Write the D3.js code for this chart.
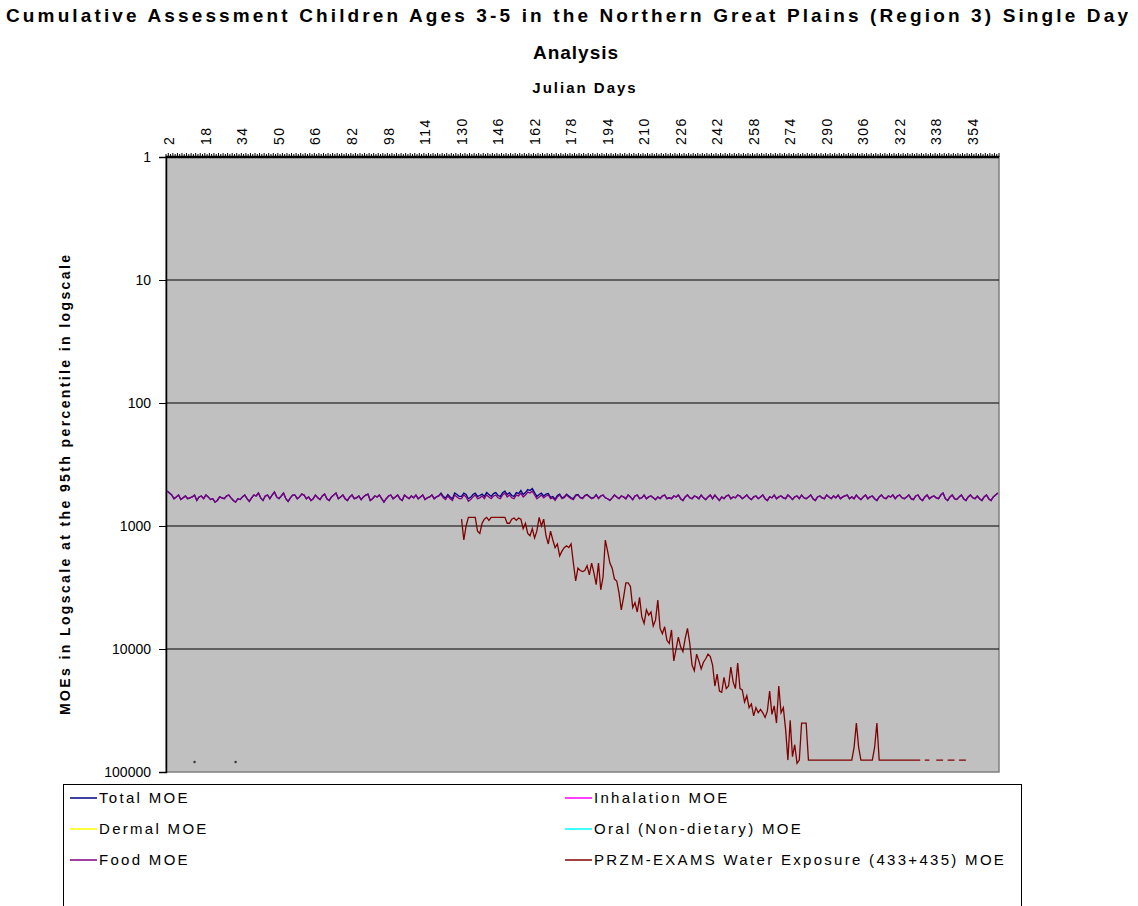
<!DOCTYPE html>
<html lang="en">
<head>
<meta charset="utf-8">
<title>Cumulative Assessment Children Ages 3-5</title>
<script src="https://d3js.org/d3.v7.min.js"></script>
<style>
  body { margin: 0; background: #fff; }
  text { font-family: "Liberation Sans", Arial, sans-serif; fill: #000; }
  .title { font-weight: bold; font-size: 19px; }
  .axis-title { font-weight: bold; font-size: 14px; }
  .tick-label { font-size: 14px; }
  .legend text { font-size: 15px; letter-spacing: 2.3px; }
</style>
</head>
<body>
<svg id="chart" width="1138" height="906"></svg>
<script>

// ---- data ----
var yTicks = [1, 10, 100, 1000, 10000, 100000];
var gridValues = [10, 100, 1000, 10000];

// julian day labels shown on top axis (every 16th day)
var dayLabels = [2, 18, 34, 50, 66, 82, 98, 114, 130, 146, 162, 178, 194, 210,
  226, 242, 258, 274, 290, 306, 322, 338, 354];

// Food MOE, day 1..365
var foodMOE = [
  520,540,560,600,580,560,610,590,570,600,590,580,560,620,580,570,600,560,580,610,
  600,640,620,580,590,600,570,560,590,620,640,600,610,580,560,600,630,590,560,570,
  540,590,620,570,560,600,560,530,580,600,570,540,600,630,590,560,560,600,580,550,
  560,600,580,620,600,560,590,610,570,550,600,620,580,560,540,600,580,560,600,620,
  580,560,600,590,570,610,580,560,550,620,600,570,580,560,600,640,600,570,560,600,
  580,560,600,620,560,580,600,570,590,560,600,580,560,610,590,580,560,600,580,570,
  550,590,610,570,600,620,560,580,600,600,560,580,630,610,580,560,600,590,570,600,
  560,580,600,570,560,590,600,560,540,580,560,590,600,560,570,540,580,560,530,540,
  520,560,600,580,560,590,570,560,600,590,620,580,560,600,590,560,580,600,610,570,
  560,590,600,570,560,580,600,590,560,600,570,560,590,600,620,590,560,580,600,570,
  580,600,560,580,610,570,560,600,590,560,600,580,570,590,610,580,600,570,560,600,
  590,600,570,580,560,600,620,580,560,590,600,570,580,600,560,590,610,580,560,600,
  560,590,620,580,600,570,560,600,580,590,560,570,600,580,560,590,610,580,570,600,
  580,560,600,620,580,590,560,600,580,570,590,600,560,580,610,580,570,600,560,590,
  600,580,560,600,620,580,570,590,600,560,580,600,570,590,560,600,580,570,560,600,
  580,600,560,590,610,580,560,600,580,570,600,620,580,560,590,600,570,580,560,600,
  570,560,590,600,580,560,600,610,570,560,600,620,580,560,600,580,570,590,600,560,
  540,600,620,580,560,600,610,580,560,600,620,580,560,590,600,570,600,620,580,560,
  600,620,580,560,540
];

// Total MOE, day 1..365
var totalMOE = [
  520,540,560,600,580,560,610,590,570,600,590,580,560,620,580,570,600,560,580,610,
  600,640,620,580,590,600,570,560,590,620,640,600,610,580,560,600,630,590,560,570,
  540,590,620,570,560,600,560,530,580,600,570,540,600,630,590,560,560,600,580,550,
  560,600,580,620,600,560,590,610,570,550,600,620,580,560,540,600,580,560,600,620,
  580,560,600,590,570,610,580,560,550,620,600,570,580,560,600,640,600,570,560,600,
  580,560,600,620,560,580,600,570,590,560,600,580,560,610,590,580,560,600,580,570,
  540,575,590,555,580,600,540,555,575,575,540,555,600,585,555,540,575,565,550,575,
  535,555,575,545,535,565,575,535,520,555,535,565,575,535,545,515,555,535,505,515,
  495,535,575,555,540,570,550,545,585,575,605,565,550,590,580,550,570,590,600,560,
  555,585,595,565,555,575,595,585,555,595,570,560,590,600,620,590,560,580,600,570,
  580,600,560,580,610,570,560,600,590,560,600,580,570,590,610,580,600,570,560,600,
  590,600,570,580,560,600,620,580,560,590,600,570,580,600,560,590,610,580,560,600,
  560,590,620,580,600,570,560,600,580,590,560,570,600,580,560,590,610,580,570,600,
  580,560,600,620,580,590,560,600,580,570,590,600,560,580,610,580,570,600,560,590,
  600,580,560,600,620,580,570,590,600,560,580,600,570,590,560,600,580,570,560,600,
  580,600,560,590,610,580,560,600,580,570,600,620,580,560,590,600,570,580,560,600,
  570,560,590,600,580,560,600,610,570,560,600,620,580,560,600,580,570,590,600,560,
  540,600,620,580,560,600,610,580,560,600,620,580,560,590,600,570,600,620,580,560,
  600,620,580,560,540
];

// PRZM-EXAMS water exposure MOE, from day 130 to day 351 (null = no value)
var waterStartDay = 130;
var waterMOE = [
  880,1300,1000,850,850,850,850,1100,1150,950,
  880,850,900,850,850,850,850,850,850,850,
  950,950,880,860,900,860,880,1050,950,1150,
  1200,1050,1250,1100,850,1000,880,1200,1400,1100,
  1300,1500,1400,1750,1600,1500,1450,1500,1400,2000,
  2800,2200,2300,2350,2300,2100,2500,2000,2400,3000,
  2000,3300,2600,1300,1600,2000,2200,2700,2800,3500,
  4800,3800,2900,2900,3100,4600,4200,5000,3800,5500,
  6200,4800,5300,5000,6500,5800,4000,6800,7500,6600,
  8500,9000,7000,12500,10000,8000,9600,10500,8200,6800,
  9000,13500,15000,11000,12500,14500,12800,12000,11000,11500,
  13500,20000,16000,22000,22500,17000,21000,20000,14000,18500,
  21000,13000,21000,21500,27000,24000,30000,28000,35000,30000,
  33000,31000,33000,36000,32000,22000,34000,29000,40000,20000,
  33000,30000,45000,80000,38000,75000,60000,85000,80000,40000,
  40000,40000,80000,80000,80000,80000,80000,80000,80000,80000,
  80000,80000,80000,80000,80000,80000,80000,80000,80000,80000,
  80000,80000,63000,40000,63000,80000,80000,80000,80000,80000,
  80000,63000,40000,80000,80000,80000,80000,80000,80000,80000,
  80000,80000,80000,80000,80000,80000,80000,80000,80000,80000,
  80000,80000,null,80000,80000,80000,null,null,80000,80000,
  80000,80000,null,80000,80000,80000,80000,null,80000,80000,
  80000,80000
];

// two lone points near the bottom left
var strayDays = [13, 31];
var strayMOE = [83000, 83000];

var legendNames = ["Total MOE", "Inhalation MOE", "Dermal MOE",
  "Oral (Non-dietary) MOE", "Food MOE", "PRZM-EXAMS Water Exposure (433+435) MOE"];
var legendColors = ["#000080", "#ff00ff", "#ffff00", "#00ffff", "#800080", "#800000"];

// ---- layout ----
var svg = d3.select("#chart");
var plotLeft = 166, plotRight = 999, plotTop = 157, plotBottom = 772;

var days = d3.range(1, 366);
var x = d3.scaleBand().domain(days).range([plotLeft, plotRight]);
var xc = function(d) { return x(d) + x.bandwidth() / 2; };
var y = d3.scaleLog().domain([1, 100000]).range([plotTop, plotBottom]);

// plot background
svg.append("rect")
    .attr("x", plotLeft).attr("y", plotTop)
    .attr("width", plotRight - plotLeft).attr("height", plotBottom - plotTop)
    .attr("fill", "#c0c0c0")
    .attr("stroke", "#808080").attr("stroke-width", 1.5);

// gridlines
svg.append("g").selectAll("line")
    .data(gridValues)
    .enter().append("line")
      .attr("x1", plotLeft).attr("x2", plotRight)
      .attr("y1", function(d) { return y(d); })
      .attr("y2", function(d) { return y(d); })
      .attr("stroke", "#000").attr("stroke-width", 1.2);

// y axis
var yAxis = d3.axisLeft(y)
    .tickValues(yTicks)
    .tickFormat(d3.format("d"))
    .tickSize(7)
    .tickPadding(8);
var gy = svg.append("g")
    .attr("transform", "translate(" + plotLeft + ",0)")
    .call(yAxis);
gy.select(".domain").attr("stroke", "#000").attr("stroke-width", 1.5);
gy.selectAll("text")
    .style("font-size", "14px").style("font-family", "Liberation Sans, Arial, sans-serif");

// top (category) axis: a tick at every day boundary
var boundaries = d3.range(0, 366);
svg.append("g").selectAll("line")
    .data(boundaries)
    .enter().append("line")
      .attr("x1", function(i) { return plotLeft + i * x.step(); })
      .attr("x2", function(i) { return plotLeft + i * x.step(); })
      .attr("y1", plotTop).attr("y2", function(i) { return i % 2 ? plotTop - 4 : plotTop - 3; })
      .attr("stroke", "#000").attr("stroke-width", 1);
svg.append("line")
    .attr("x1", plotLeft).attr("x2", plotRight)
    .attr("y1", plotTop).attr("y2", plotTop)
    .attr("stroke", "#000").attr("stroke-width", 2.5);

svg.append("g").selectAll("text")
    .data(dayLabels)
    .enter().append("text")
      .attr("class", "tick-label")
      .attr("transform", function(d) { return "translate(" + (xc(d) + 5) + ",145) rotate(-90)"; })
      .attr("text-anchor", "start")
      .style("letter-spacing", "1.5px")
      .text(function(d) { return d; });

// series lines
var line = d3.line()
    .defined(function(d) { return d.v != null; })
    .x(function(d) { return xc(d.day); })
    .y(function(d) { return y(d.v); });

var totalPts = days.map(function(d, i) { return { day: d, v: totalMOE[i] }; });
var foodPts = days.map(function(d, i) { return { day: d, v: foodMOE[i] }; });
var waterPts = waterMOE.map(function(v, i) { return { day: waterStartDay + i, v: v }; });

svg.append("path").datum(totalPts)
    .attr("d", line).attr("fill", "none")
    .attr("stroke", legendColors[0]).attr("stroke-width", 1.3);
svg.append("path").datum(foodPts)
    .attr("d", line).attr("fill", "none")
    .attr("stroke", legendColors[4]).attr("stroke-width", 1.3);
svg.append("path").datum(waterPts)
    .attr("d", line).attr("fill", "none")
    .attr("stroke", legendColors[5]).attr("stroke-width", 1.3);

svg.append("g").selectAll("circle")
    .data(strayDays)
    .enter().append("circle")
      .attr("cx", function(d) { return xc(d); })
      .attr("cy", function(d, i) { return y(strayMOE[i]); })
      .attr("r", 1.2)
      .attr("fill", "#333");

// titles
svg.append("text").attr("class", "title")
    .attr("x", 6).attr("y", 22)
    .attr("textLength", 1122).attr("lengthAdjust", "spacing")
    .text("Cumulative Assessment Children Ages 3-5 in the Northern Great Plains (Region 3) Single Day");
svg.append("text").attr("class", "title")
    .attr("x", 576).attr("y", 59).attr("text-anchor", "middle")
    .style("letter-spacing", "1px")
    .text("Analysis");
svg.append("text").attr("class", "axis-title")
    .attr("x", 585).attr("y", 93).attr("text-anchor", "middle")
    .style("font-size", "15px").style("letter-spacing", "2px")
    .text("Julian Days");
svg.append("text").attr("class", "axis-title")
    .attr("transform", "translate(70,715) rotate(-90)")
    .attr("textLength", 460).attr("lengthAdjust", "spacing")
    .text("MOEs in Logscale at the 95th percentile in logscale");

// legend
var legend = svg.append("g").attr("class", "legend");
legend.append("rect")
    .attr("x", 63.5).attr("y", 784.5)
    .attr("width", 958).attr("height", 130)
    .attr("fill", "#fff").attr("stroke", "#000").attr("stroke-width", 1);

var legendItems = legend.selectAll("g.item")
    .data(legendNames)
    .enter().append("g")
      .attr("class", "item")
      .attr("transform", function(d, i) {
        var col = i % 2, row = Math.floor(i / 2);
        return "translate(" + (col ? 565 : 70) + "," + (798 + row * 31) + ")";
      });
legendItems.append("line")
    .attr("x1", 0).attr("x2", 27)
    .attr("stroke", function(d, i) { return legendColors[i]; })
    .attr("stroke-width", 1.5);
legendItems.append("text")
    .attr("x", 29).attr("y", 5)
    .text(function(d) { return d; });

</script>
</body>
</html>
